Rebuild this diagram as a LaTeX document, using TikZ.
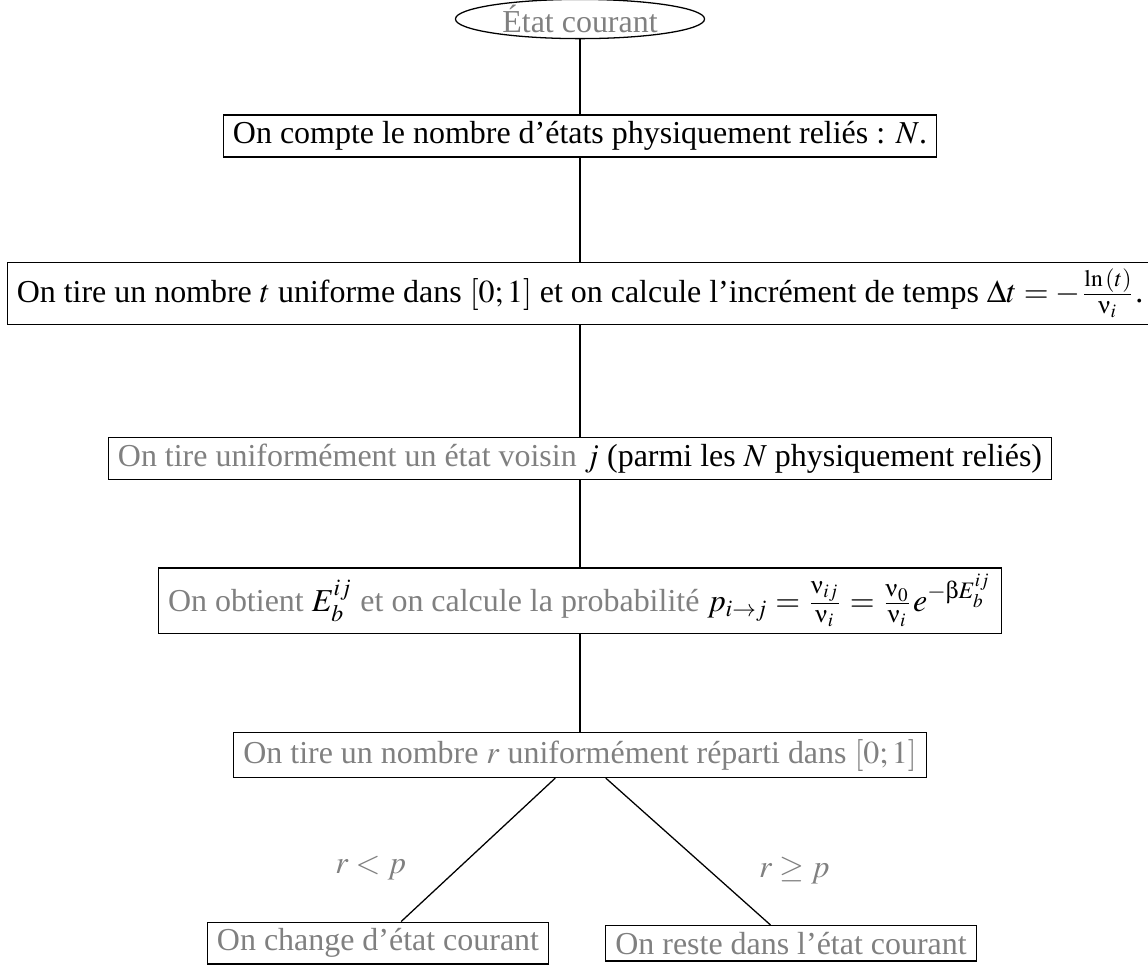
\documentclass[tikz,border=0pt]{standalone}
\usepackage{mathptmx}
\usepackage[Symbol]{upgreek}
\usepackage[no-math]{fontspec}
\setmainfont{Liberation Serif}
\usepackage{tikz}
\usetikzlibrary{positioning,shapes.geometric}
\tikzstyle{block} = [rectangle, draw, inner xsep=3pt, inner ysep=2pt, text centered]
\tikzstyle{line} = [draw, thin]
\tikzset{
  etatnode/.style={
    ellipse,
    draw,
    inner sep=0pt,
    minimum width=2.74cm,
    minimum height=0.42cm,
    text=gray},
  grisnode/.style={block, text=gray},
  condlabel/.style={text=gray},
}

\begin{document}
\begin{tikzpicture}[node distance = 1.5cm]
    \useasboundingbox (0,0) rectangle (12.628,-10.604);
    % Place nodes
    \node [etatnode] (etat) at (6.38,-0.209) {État courant};
    \node [block, below of=etat, node distance=1.287cm] (compte)
        {On compte le nombre d'états physiquement reliés : $N$.};
    \node [block, below of=compte, node distance=1.733cm] (tirage)
        {On tire un nombre $t$ uniforme dans $[0;1]$ et on calcule l'incrément de temps $\Delta t = -\frac{\ln\,(t)}{\upnu_i}$.};
    \node [block, below of=tirage, node distance=1.815cm] (voisin)
        {\textcolor{gray}{On tire uniformément un état voisin} $j$ (parmi les $N$ physiquement reliés)};
    \node [block, below of=voisin, node distance=1.562cm] (proba)
        {\textcolor{gray}{On obtient} $E_b^{ij}$ \textcolor{gray}{et on calcule la probabilité} $p_{i\rightarrow j} = \frac{\upnu_{ij}}{\upnu_i} = \frac{\upnu_0}{\upnu_i}e^{-\upbeta E_b^{ij}}$};
    \node [grisnode, below of=proba, node distance=1.70cm] (tirer)
        {On tire un nombre $r$ uniformément réparti dans $[0;1]$};
    \node [grisnode, below of=tirer, node distance=2.068cm, xshift=-2.222cm] (change)
        {On change d'état courant};
    \node [grisnode, below of=tirer, node distance=2.07cm, xshift=2.321cm] (reste)
        {On reste dans l'état courant};
    % Draw edges
    \path [line] (etat) -- (compte);
    \path [line] (compte) -- (tirage);
    \path [line] (tirage) -- (voisin);
    \path [line] (voisin) -- (proba);
    \path [line] (proba) -- (tirer);
    \path [line] (tirer) -- node[condlabel, pos=.63, left=0.45cm] {$r<p$} (change);
    \path [line] (tirer) -- node[condlabel, pos=.63, right=0.42cm] {$r\geq p$} (reste);
\end{tikzpicture}
\end{document}
